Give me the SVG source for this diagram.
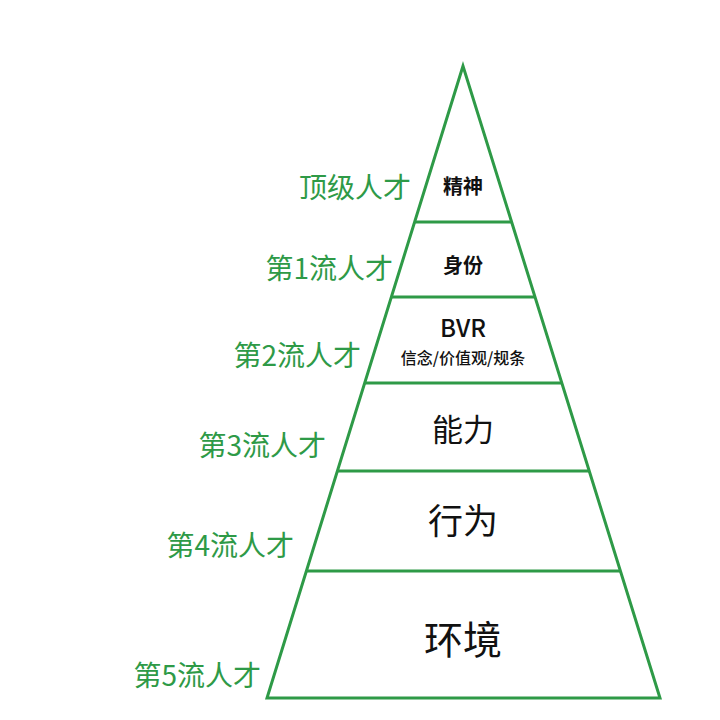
<svg xmlns="http://www.w3.org/2000/svg" width="720" height="720" viewBox="0 0 720 720">
<style>
.g{stroke:#2e9a47;stroke-width:3;fill:none}
.l{fill:#2e9a47;font-family:"Noto Sans CJK SC",sans-serif;font-size:28px;text-anchor:end}
.t{fill:#111;font-family:"Noto Sans CJK SC",sans-serif;text-anchor:middle}
</style>
<rect width="720" height="720" fill="#fff"/>
<g id="connectors">
<polygon class="g" points="463,66 267,698 660,698"/>
<line class="g" x1="415" y1="222" x2="512" y2="222"/>
<line class="g" x1="391" y1="297" x2="535" y2="297"/>
<line class="g" x1="365" y1="383" x2="562" y2="383"/>
<line class="g" x1="337" y1="471" x2="589" y2="471"/>
<line class="g" x1="306" y1="571" x2="620" y2="571"/>
</g>
<g id="n0"><text class="l" x="411" y="198">顶级人才</text><text class="t" x="463" y="194" font-size="20" font-weight="bold">精神</text></g>
<g id="n1"><text class="l" x="393" y="279">第1流人才</text><text class="t" x="463" y="273" font-size="20" font-weight="bold">身份</text></g>
<g id="n2"><text class="l" x="361" y="366">第2流人才</text><text class="t" x="463" y="337" font-size="24" font-weight="500">BVR</text><text class="t" x="463" y="364" font-size="16" font-weight="500">信念/价值观/规条</text></g>
<g id="n3"><text class="l" x="326" y="456">第3流人才</text><text class="t" x="463" y="441" font-size="31">能力</text></g>
<g id="n4"><text class="l" x="294" y="556">第4流人才</text><text class="t" x="463" y="534" font-size="35">行为</text></g>
<g id="n5"><text class="l" x="261" y="686">第5流人才</text><text class="t" x="463" y="654" font-size="39">环境</text></g>
</svg>
